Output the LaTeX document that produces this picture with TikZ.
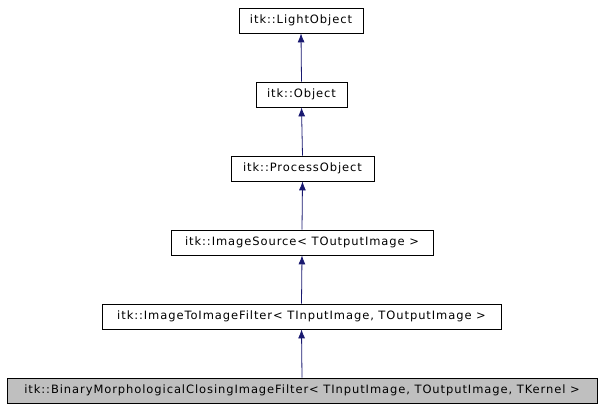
\documentclass[tikz,border=0pt]{standalone}
\usepackage{fontspec}
\setmainfont{DejaVu Sans}[LetterSpace=8]
\usetikzlibrary{arrows.meta}
\definecolor{edge}{HTML}{191970}
\begin{document}
\begin{tikzpicture}[x=1pt,y=-1pt,
  cls/.style={draw=black,line width=0.8pt,fill=white,inner sep=0pt,minimum height=25pt,font=\fontsize{11.5}{13}\selectfont},
  inh/.style={draw=edge,line width=0.8pt,-{Latex[length=9pt,width=7pt]}}]
\useasboundingbox (0,0) rectangle (603,411);
\node[cls,minimum width=124pt] (a) at (301,20.5) {itk::LightObject};
\node[cls,minimum width=91pt] (b) at (301.5,94.5) {itk::Object};
\node[cls,minimum width=143pt] (c) at (302.5,168.5) {itk::ProcessObject};
\node[cls,minimum width=262pt] (d) at (302,242.5) {itk::ImageSource\textless{} TOutputImage \textgreater};
\node[cls,minimum width=399pt] (e) at (301.5,316.5) {itk::ImageToImageFilter\textless{} TInputImage, TOutputImage \textgreater};
\node[cls,minimum width=590pt,fill=black!25] (f) at (302,390.5) {itk::BinaryMorphologicalClosingImageFilter\textless{} TInputImage, TOutputImage, TKernel \textgreater};
\draw[inh] (b.north) -- (a.south);
\draw[inh] (c.north) -- (b.south);
\draw[inh] (d.north) -- (c.south);
\draw[inh] (e.north) -- (d.south);
\draw[inh] (f.north) -- (e.south);
\end{tikzpicture}
\end{document}
